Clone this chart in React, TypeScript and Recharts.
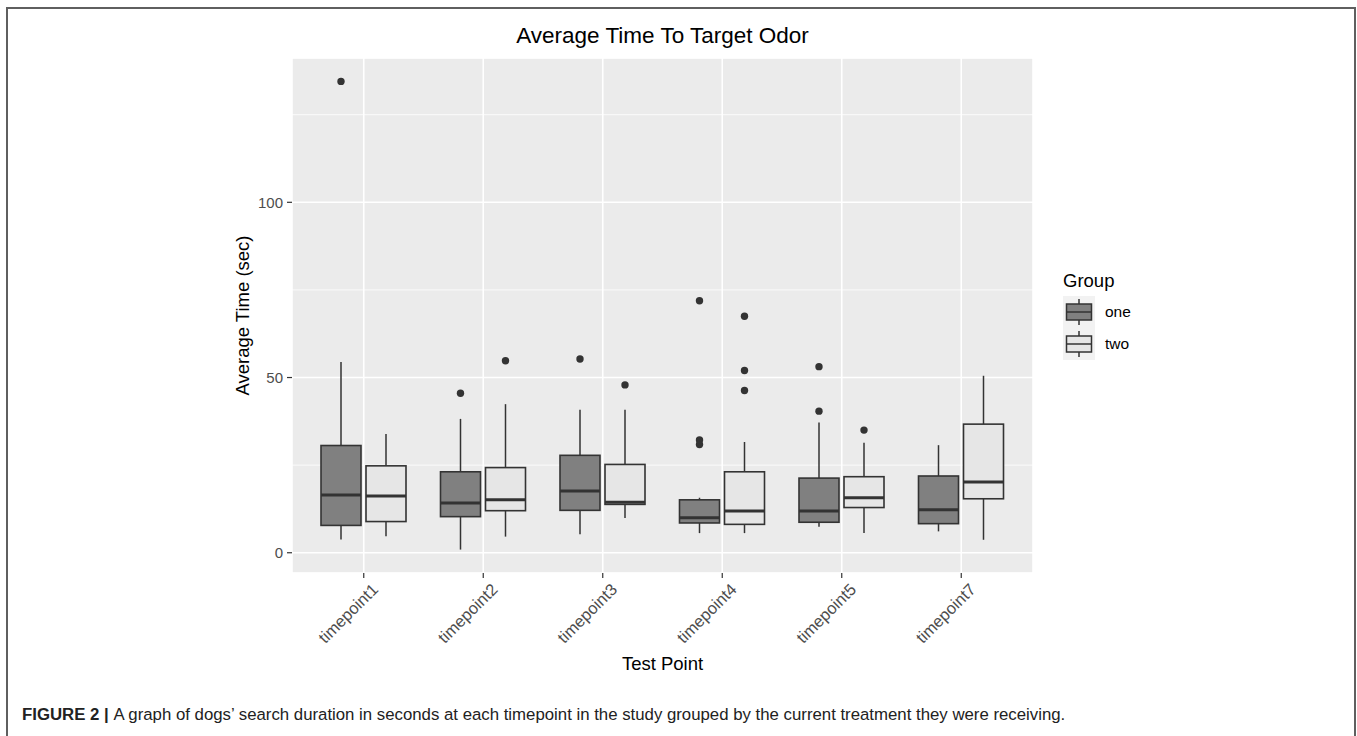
import React from 'react';
import { ComposedChart, Bar, XAxis, YAxis, CartesianGrid, Legend } from 'recharts';

const categories = ['timepoint1', 'timepoint2', 'timepoint3', 'timepoint4', 'timepoint5', 'timepoint7'];

const oneMin = [3.8, 0.9, 5.3, 5.6, 7.4, 6.1];
const oneQ1 = [7.8, 10.3, 12.1, 8.5, 8.7, 8.3];
const oneMedian = [16.5, 14.2, 17.6, 10.0, 11.9, 12.3];
const oneQ3 = [30.6, 23.1, 27.8, 15.1, 21.3, 21.9];
const oneMax = [54.4, 38.2, 40.8, 15.7, 37.2, 30.7];
const oneOutliers = [[134.5], [45.5], [55.3], [71.9, 32.2, 30.9], [53.1, 40.4], []];

const twoMin = [4.7, 4.6, 9.9, 5.6, 5.6, 3.7];
const twoQ1 = [8.9, 12.0, 13.8, 8.1, 12.9, 15.4];
const twoMedian = [16.2, 15.1, 14.4, 11.9, 15.7, 20.2];
const twoQ3 = [24.8, 24.3, 25.2, 23.1, 21.7, 36.7];
const twoMax = [33.9, 42.4, 40.8, 31.6, 31.4, 50.5];
const twoOutliers = [[], [54.8], [47.9], [67.5, 52.0, 46.3], [35.0], []];

const yTicks = [0, 50, 100];
const yMinorTicks = [25, 75, 125];

const groupNames = ['one', 'two'];
const groupFills = ['#808080', '#E6E6E6'];

const FONT = '"Liberation Sans", Arial, Helvetica, sans-serif';
const INK = '#333333';

const data = categories.map((cat, i) => ({
  cat,
  one: { min: oneMin[i], q1: oneQ1[i], median: oneMedian[i], q3: oneQ3[i], max: oneMax[i], outliers: oneOutliers[i] },
  two: { min: twoMin[i], q1: twoQ1[i], median: twoMedian[i], q3: twoQ3[i], max: twoMax[i], outliers: twoOutliers[i] },
  oneRange: [oneMin[i], oneMax[i]],
  twoRange: [twoMin[i], twoMax[i]],
}));

const allValues = [
  ...oneMin, ...oneMax, ...twoMin, ...twoMax,
  ...oneOutliers.flat(), ...twoOutliers.flat(),
];
const dMin = Math.min(...allValues);
const dMax = Math.max(...allValues);
const pad = (dMax - dMin) * 0.05;
const yDomain: [number, number] = [dMin - pad, dMax + pad];

const makeBox = (s: 'one' | 'two', fill: string) => (props: any) => {
  const { x, y, width, height, payload } = props;
  const st = payload[s];
  const hi = st.max;
  const lo = st.min;
  const py = (v: number) => y + (height * (hi - v)) / (hi - lo);
  const cx = x + width / 2;
  return (
    <g>
      <line x1={cx} x2={cx} y1={py(st.max)} y2={py(st.q3)} stroke={INK} strokeWidth={1.5} />
      <line x1={cx} x2={cx} y1={py(st.q1)} y2={py(st.min)} stroke={INK} strokeWidth={1.5} />
      <rect x={x} y={py(st.q3)} width={width} height={py(st.q1) - py(st.q3)} fill={fill} stroke={INK} strokeWidth={1.6} />
      <line x1={x} x2={x + width} y1={py(st.median)} y2={py(st.median)} stroke={INK} strokeWidth={3} />
      {st.outliers.map((v: number, k: number) => (
        <circle key={k} cx={cx} cy={py(v)} r={3.7} fill={INK} />
      ))}
    </g>
  );
};

const XTick = (props: any) => {
  const { x, y, payload } = props;
  return (
    <g transform={`translate(${x + 7},${y + 2})`}>
      <text transform="rotate(-45)" textAnchor="end" x={0} y={0} dy="0.72em" fontSize={16.5} fill="#4D4D4D" fontFamily={FONT}>
        {payload.value}
      </text>
    </g>
  );
};

const LegendContent = () => (
  <div style={{ fontFamily: FONT }}>
    <div style={{ fontSize: 18.5, color: '#000', height: 30, lineHeight: '30px' }}>Group</div>
    {groupNames.map((g, i) => (
      <div key={g} style={{ display: 'flex', alignItems: 'center', height: 32 }}>
        <svg width={32} height={32}>
          <rect x={0} y={0} width={32} height={32} fill="#F2F2F2" />
          <line x1={16} x2={16} y1={3} y2={29} stroke={INK} strokeWidth={1.5} />
          <rect x={3.5} y={8} width={25} height={16} fill={groupFills[i]} stroke={INK} strokeWidth={1.5} />
          <line x1={3.5} x2={28.5} y1={16} y2={16} stroke={INK} strokeWidth={1.5} />
        </svg>
        <span style={{ fontSize: 15.5, marginLeft: 10, color: '#000' }}>{g}</span>
      </div>
    ))}
  </div>
);

const YTitle = (props: any) => {
  const vb = props.viewBox || {};
  const cx = 242;
  const cy = vb.y + vb.height / 2;
  return (
    <text x={cx} y={cy} transform={`rotate(-90, ${cx}, ${cy})`} textAnchor="middle" dominantBaseline="central" fontSize={18.5} fill="#000" fontFamily={FONT}>
      Average Time (sec)
    </text>
  );
};

export default function App() {
  return (
    <div style={{ position: 'absolute', left: 0, top: 0, width: 1357, height: 736, overflow: 'hidden', background: '#fff', fontFamily: FONT }}>
      <div style={{ position: 'absolute', left: 6, top: 7, width: 1350, height: 800, border: '2px solid #5f5f5f', boxSizing: 'border-box' }} />
      <div style={{ position: 'absolute', left: 0, top: 0 }}>
        <ComposedChart
          width={1357}
          height={736}
          data={data}
          margin={{ top: 58, right: 324, bottom: 66, left: 232 }}
          barSize={40}
          barGap={5}
        >
          <CartesianGrid yAxisId="minor" vertical={false} fill="#EBEBEB" fillOpacity={1} stroke="#FFFFFF" strokeWidth={0.8} />
          <CartesianGrid stroke="#FFFFFF" strokeWidth={1.6} />
          <XAxis
            dataKey="cat"
            type="category"
            padding={{ left: 12, right: 12 }}
            height={97}
            axisLine={false}
            tickLine={{ stroke: INK, strokeWidth: 1.2 }}
            tickSize={5}
            tick={<XTick />}
            interval={0}
            label={{ value: 'Test Point', position: 'insideBottom', offset: 0, fontSize: 18.5, fill: '#000', fontFamily: FONT }}
          />
          <YAxis
            type="number"
            domain={yDomain}
            allowDataOverflow
            ticks={yTicks}
            width={60}
            axisLine={false}
            tickLine={{ stroke: INK, strokeWidth: 1.2 }}
            tickSize={5}
            tickMargin={4}
            tick={{ fontSize: 15, fill: '#4D4D4D', fontFamily: FONT }}
            label={<YTitle />}
          />
          <YAxis
            yAxisId="minor"
            type="number"
            domain={yDomain}
            allowDataOverflow
            ticks={yMinorTicks}
            hide
          />
          <Legend
            layout="vertical"
            align="center"
            verticalAlign="middle"
            content={<LegendContent />}
            wrapperStyle={{ left: 1063, top: 266, width: 120, height: 100 }}
          />
          <Bar dataKey="oneRange" name="one" fill={groupFills[0]} shape={makeBox('one', groupFills[0])} isAnimationActive={false} />
          <Bar dataKey="twoRange" name="two" fill={groupFills[1]} shape={makeBox('two', groupFills[1])} isAnimationActive={false} />
        </ComposedChart>
      </div>
      <svg width={1357} height={736} style={{ position: 'absolute', left: 0, top: 0, pointerEvents: 'none' }}>
        <text x={662.5} y={43.3} textAnchor="middle" fontSize={22.5} fill="#000" fontFamily={FONT}>
          Average Time To Target Odor
        </text>
        <text x={22} y={720} fontSize={16.8} fill="#222" fontFamily={FONT}>
          <tspan fontWeight="bold">FIGURE 2</tspan>
          <tspan fontWeight="bold"> | </tspan>
          <tspan>A graph of dogs’ search duration in seconds at each timepoint in the study grouped by the current treatment they were receiving.</tspan>
        </text>
      </svg>
    </div>
  );
}
